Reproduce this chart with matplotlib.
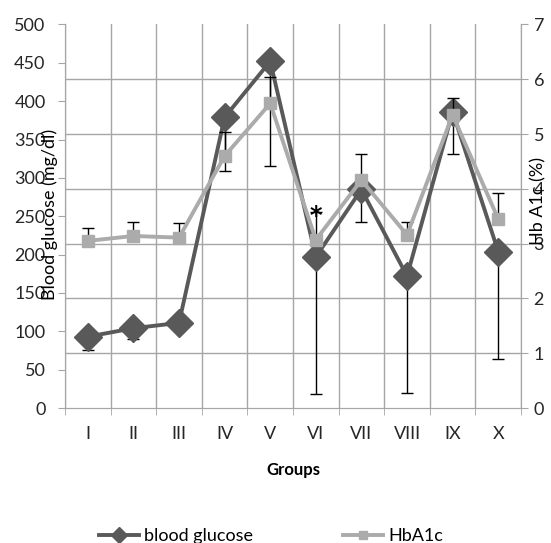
import numpy as np
import matplotlib
matplotlib.use("Agg")
import matplotlib.pyplot as plt
from matplotlib.lines import Line2D

plt.rcParams['font.family'] = ['Lato', 'DejaVu Sans']

groups = ['I', 'II', 'III', 'IV', 'V', 'VI', 'VII', 'VIII', 'IX', 'X']
glucose = [93, 104, 111, 379, 452, 197, 285, 172, 386, 204]
glucose_err = [18, 14, 8, 70, 137, 179, 43, 153, 55, 140]
hba1c = [3.05, 3.14, 3.11, 4.60, 5.56, 3.07, 4.16, 3.16, 5.35, 3.45]
hba1c_err = [0.23, 0.26, 0.27, 0.44, 0.48, 0.51, 0.48, 0.24, 0.31, 0.48]
star_group = 5  # index of group VI

DARK = "#595959"
LIGHT = "#ABABAB"
GRID = "#A6A6A6"
TEXT = "#262626"

fig = plt.figure(figsize=(5.51, 5.43), dpi=100)
ax = fig.add_axes([0.118, 0.2486, 0.8276, 0.7063])
ax2 = ax.twinx()

x = np.arange(1, len(groups) + 1)

# blood glucose, minus error bars only
ax.errorbar(x, glucose, yerr=[glucose_err, np.zeros(len(x))], fmt='none',
            ecolor='black', elinewidth=1, capsize=4, capthick=1, zorder=2)
ax.plot(x, glucose, color=DARK, lw=2.8, marker='D', ms=14, zorder=3)

# HbA1c, plus error bars only
ax2.errorbar(x, hba1c, yerr=[np.zeros(len(x)), hba1c_err], fmt='none',
             ecolor='black', elinewidth=1, capsize=4, capthick=1, zorder=2)
ax2.plot(x, hba1c, color=LIGHT, lw=2.8, marker='s', ms=8, zorder=3)
ax2.text(x[star_group], hba1c[star_group] + hba1c_err[star_group] - 0.08, '*',
         ha='center', va='center', fontsize=17, fontweight='bold', color='black',
         family='DejaVu Sans')

ax.set_xlim(0.5, len(groups) + 0.5)
ax.set_ylim(0, 500)
ax2.set_ylim(0, 7)

ax.set_xticks(x)
ax.set_xticklabels(groups)
ax.set_xticks(np.arange(0.5, len(groups) + 1), minor=True)
ax.set_yticks(np.arange(0, 501, 50))
# horizontal grid follows the right axis
ax.set_yticks(np.arange(0, 8) * 500 / 7, minor=True)
ax2.set_yticks(np.arange(0, 8))

ax.grid(False)
ax.grid(True, which='minor', color=GRID, lw=1)
ax.set_axisbelow(True)

ax.tick_params(axis='x', which='major', length=0, pad=13, labelsize=13, labelcolor=TEXT)
ax.tick_params(axis='x', which='minor', length=5, color=GRID, direction='out')
ax.tick_params(axis='y', which='major', length=5, color=GRID, pad=9, labelsize=13, labelcolor=TEXT)
ax.tick_params(axis='y', which='minor', length=0)
ax2.tick_params(axis='y', length=5, color=GRID, pad=4, labelsize=13, labelcolor=TEXT)

for a in (ax, ax2):
    a.spines['top'].set_visible(False)
    for s in ('left', 'right', 'bottom'):
        a.spines[s].set_color(GRID)

ax.set_ylabel('Blood glucose (mg/dl)', fontsize=13, color='black')
ax.yaxis.set_label_coords(-0.015, 0.506)
ax2.set_ylabel('Hb A1c (%)', fontsize=13, color='black', rotation=90)
ax2.yaxis.set_label_coords(1.02, 0.54)
ax.set_xlabel('Groups', fontsize=12, fontweight='bold', color='black', labelpad=14)

handles = [Line2D([], [], color=DARK, lw=2.8, marker='D', ms=8),
           Line2D([], [], color=LIGHT, lw=2.8, marker='s', ms=6)]
fig.legend(handles, ['blood glucose', 'HbA1c'], ncol=2, loc='center',
           bbox_to_anchor=(0.492, 0.012), frameon=False, fontsize=13,
           handlelength=2.2, handletextpad=0.3, columnspacing=5.0)

fig.savefig('out.png', dpi=100)
